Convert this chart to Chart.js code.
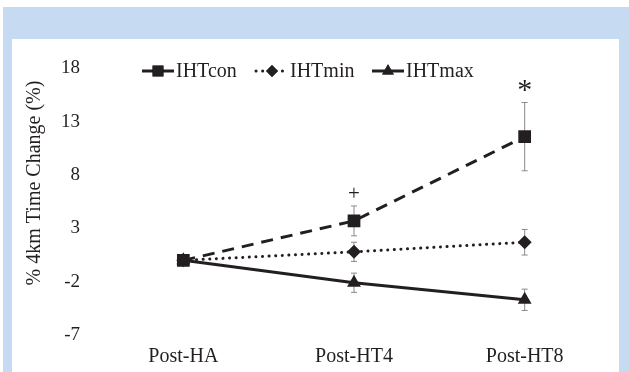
<!DOCTYPE html>
<html>
<head>
<meta charset="utf-8">
<script src="https://cdn.jsdelivr.net/npm/chart.js@4"></script>
<style>
  html, body { margin: 0; padding: 0; background: #fff; }
  #frame { position: absolute; left: 3px; top: 7px; width: 626px; height: 365px; background: #c6dbf1; }
  #box { position: absolute; left: 12px; top: 39px; width: 607px; height: 333px; background: #fff; }
</style>
</head>
<body>
<div id="frame"></div>
<div id="box"><canvas id="chart" width="607" height="333"></canvas></div>
<script>
// Data
var categories = ['Post-HA', 'Post-HT4', 'Post-HT8'];
var ihtCon = [0, 3.7, 11.6];
var ihtConErr = [0, 1.4, 3.2];
var ihtMin = [0, 0.8, 1.7];
var ihtMinErr = [0, 0.9, 1.2];
var ihtMax = [0, -2.1, -3.7];
var ihtMaxErr = [0, 0.9, 1.0];
var yTicks = [-7, -2, 3, 8, 13, 18];
// significance marks above IHTcon
var marks = ['', '+', '*'];

var ink = '#231f20';
var serif = '"Liberation Serif", "DejaVu Serif", serif';

var errors = [ihtConErr, ihtMinErr, ihtMaxErr];

// error bars and significance marks
var errorBarPlugin = {
    id: 'errorBars',
    beforeDatasetsDraw: function(chart) {
        var ctx = chart.ctx;
        var y = chart.scales.y;
        ctx.save();
        ctx.strokeStyle = '#8a8a8a';
        ctx.lineWidth = 1;
        chart.data.datasets.forEach(function(ds, i) {
            var meta = chart.getDatasetMeta(i);
            meta.data.forEach(function(pt, j) {
                var e = errors[i][j];
                if (!e) return;
                var top = y.getPixelForValue(ds.data[j] + e);
                var bot = y.getPixelForValue(ds.data[j] - e);
                ctx.beginPath();
                ctx.moveTo(pt.x, top); ctx.lineTo(pt.x, bot);
                ctx.moveTo(pt.x - 3, top); ctx.lineTo(pt.x + 3, top);
                ctx.moveTo(pt.x - 3, bot); ctx.lineTo(pt.x + 3, bot);
                ctx.stroke();
            });
        });
        ctx.restore();
    },
    afterDatasetsDraw: function(chart) {
        var ctx = chart.ctx;
        var y = chart.scales.y;
        var meta = chart.getDatasetMeta(0);
        ctx.save();
        ctx.fillStyle = ink;
        ctx.textAlign = 'center';
        ctx.textBaseline = 'middle';
        marks.forEach(function(m, j) {
            if (!m) return;
            var top = y.getPixelForValue(ihtCon[j] + ihtConErr[j]);
            if (m === '*') {
                ctx.font = '30px ' + serif;
                ctx.fillText(m, meta.data[j].x, top - 11);
            } else {
                ctx.font = '21px ' + serif;
                ctx.fillText(m, meta.data[j].x, top - 11);
            }
        });
        ctx.restore();
    },
    afterDraw: function(chart) {
        var ctx = chart.ctx;
        ctx.save();
        // y axis title
        ctx.fillStyle = ink;
        ctx.font = '20px ' + serif;
        ctx.textAlign = 'center';
        ctx.textBaseline = 'middle';
        ctx.translate(23, 144);
        ctx.rotate(-Math.PI / 2);
        ctx.fillText('% 4km Time Change (%)', 0, 0);
        ctx.restore();

        // legend
        var items = [
            { x: 130, i: 0 },
            { x: 244, i: 1 },
            { x: 360, i: 2 }
        ];
        ctx.save();
        items.forEach(function(it) {
            var ds = chart.data.datasets[it.i];
            var ly = 32;
            ctx.strokeStyle = ink;
            ctx.lineWidth = 3;
            ctx.setLineDash(ds.borderDash || []);
            ctx.lineCap = ds.borderCapStyle || 'butt';
            ctx.beginPath();
            ctx.moveTo(it.x, ly); ctx.lineTo(it.x + 32, ly);
            ctx.stroke();
            ctx.setLineDash([]);
            Chart.helpers.drawPoint(ctx, {
                pointStyle: ds.pointStyle, radius: ds.pointRadius * 0.85,
                borderWidth: 0, rotation: 0
            }, it.x + 16, ly);
            ctx.fillStyle = ink;
            ctx.fill();
            ctx.font = '20px ' + serif;
            ctx.textAlign = 'left';
            ctx.textBaseline = 'middle';
            ctx.fillText(ds.label, it.x + 34, ly + 1);
        });
        ctx.restore();
    }
};

var ctx = document.getElementById('chart').getContext('2d');
new Chart(ctx, {
    type: 'line',
    data: {
        labels: categories,
        datasets: [{
            label: 'IHTcon',
            data: ihtCon,
            borderColor: ink,
            backgroundColor: ink,
            borderWidth: 3,
            borderDash: [12, 8],
            pointStyle: 'rect',
            pointRadius: 9,
            pointBorderWidth: 0
        }, {
            label: 'IHTmin',
            data: ihtMin,
            borderColor: ink,
            backgroundColor: ink,
            borderWidth: 3,
            borderDash: [0.1, 6.5],
            borderCapStyle: 'round',
            pointStyle: 'rectRot',
            pointRadius: 7,
            pointBorderWidth: 0
        }, {
            label: 'IHTmax',
            data: ihtMax,
            borderColor: ink,
            backgroundColor: ink,
            borderWidth: 3,
            pointStyle: 'triangle',
            pointRadius: 8,
            pointBorderWidth: 0
        }]
    },
    options: {
        responsive: false,
        animation: false,
        layout: { padding: { top: 26, right: 4, left: 0, bottom: 0 } },
        plugins: {
            legend: { display: false },
            tooltip: { enabled: false }
        },
        scales: {
            x: {
                offset: true,
                grid: { display: false, drawTicks: false },
                border: { display: false },
                ticks: { color: ink, font: { family: serif, size: 20 }, padding: 10 },
                afterFit: function(s) { s.height = 37; }
            },
            y: {
                min: -7,
                max: 18,
                grid: { display: false, drawTicks: false },
                border: { display: false },
                afterBuildTicks: function(s) { s.ticks = yTicks.map(function(v) { return { value: v }; }); },
                ticks: { color: ink, font: { family: serif, size: 19 }, padding: 18 },
                afterFit: function(s) { s.width = 86; }
            }
        }
    },
    plugins: [errorBarPlugin]
});
</script>
</body>
</html>
